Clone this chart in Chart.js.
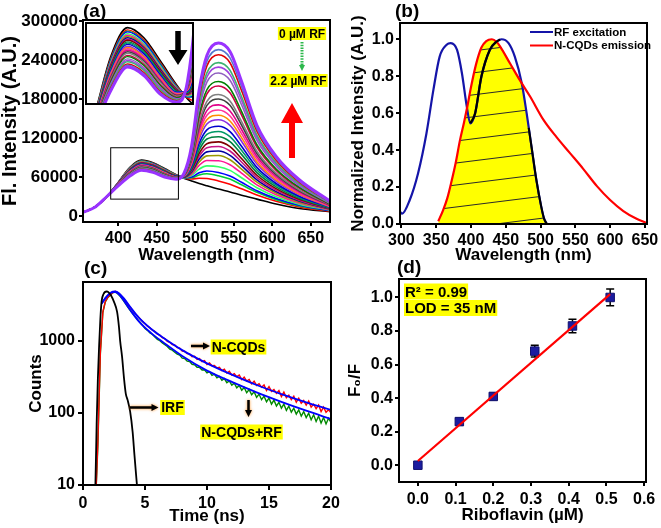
<!DOCTYPE html>
<html>
<head>
<meta charset="utf-8">
<script src="https://cdn.jsdelivr.net/npm/chart.js@4/dist/chart.umd.min.js"></script>
<style>
  html, body { margin: 0; padding: 0; background: #fff; }
  #wrap { position: relative; width: 661px; height: 528px; overflow: hidden; background: #fff; }
  #wrap canvas { position: absolute; left: 0; top: 0; }
</style>
</head>
<body>
<div id="wrap">
  <canvas id="chA" width="661" height="528"></canvas>
  <canvas id="chInset" width="661" height="528"></canvas>
  <canvas id="chB" width="661" height="528"></canvas>
  <canvas id="chC" width="661" height="528"></canvas>
  <canvas id="chD" width="661" height="528"></canvas>
</div>
<script>
// ---------- (a) emission spectra of N-CQDs with RF added (intensity in thousands A.U.) ----------
const waveA = [355, 370, 385, 400, 415, 430, 445, 460, 475, 485, 495, 505, 515, 530, 545, 560, 580, 605, 635, 675];
const spectraA = [
  [6, 14, 30, 52, 75, 86, 82, 73, 63.5, 58, 54, 50, 46.5, 41.5, 37, 32, 26, 18.5, 11.5, 6.5],
  [6, 14, 30, 51.7, 74.3, 85.1, 81.2, 72.3, 63.1, 58.4, 57.0, 58.0, 57.6, 54.0, 49.0, 41.8, 32.3, 22.6, 14.0, 7.4],
  [6, 14, 30, 51.5, 73.8, 84.6, 80.7, 71.8, 62.9, 58.7, 58.8, 63.2, 64.9, 62.0, 56.8, 48.0, 36.4, 25.2, 15.5, 8.0],
  [6, 14, 30, 51.4, 73.5, 84.3, 80.4, 71.5, 62.7, 58.8, 60.0, 66.4, 69.3, 67.0, 61.5, 51.9, 38.9, 26.8, 16.6, 8.4],
  [6, 14, 30, 51.2, 72.9, 83.6, 79.7, 71.0, 62.4, 59.1, 62.1, 72.1, 77.2, 75.9, 70.2, 58.9, 43.5, 29.7, 18.3, 9.0],
  [6, 14, 30, 51.0, 72.4, 83.0, 79.1, 70.4, 62.2, 59.4, 64.2, 77.9, 85.3, 84.9, 78.8, 65.9, 48.0, 32.7, 20.1, 9.7],
  [6, 14, 30, 50.8, 71.9, 82.5, 78.6, 70.0, 62.0, 59.6, 66.2, 83.1, 92.5, 93.0, 86.6, 72.2, 52.0, 35.3, 21.6, 10.2],
  [6, 14, 30, 50.6, 71.5, 82.0, 78.1, 69.6, 61.7, 59.8, 67.8, 87.6, 98.7, 99.9, 93.3, 77.6, 55.6, 37.5, 23.1, 10.8],
  [6, 14, 30, 50.4, 71.0, 81.4, 77.7, 69.1, 61.5, 60.0, 69.4, 92.1, 104.9, 107.0, 100.0, 83.1, 59.1, 39.8, 24.4, 11.3],
  [6, 14, 30, 50.3, 70.7, 81.0, 77.2, 68.8, 61.3, 60.2, 71.1, 96.5, 111.2, 114.0, 106.8, 88.5, 62.7, 42.1, 25.8, 11.8],
  [6, 14, 30, 50.1, 70.1, 80.4, 76.7, 68.3, 61.1, 60.4, 73.0, 101.7, 118.4, 122.0, 114.5, 94.8, 66.7, 44.8, 27.4, 12.4],
  [6, 14, 30, 49.9, 69.7, 79.9, 76.2, 67.8, 60.8, 60.8, 74.9, 106.8, 125.5, 130.0, 122.1, 101.0, 70.8, 47.4, 29.0, 12.9],
  [6, 14, 30, 49.7, 69.2, 79.4, 75.7, 67.4, 60.6, 61.0, 76.7, 112.0, 132.6, 138.0, 129.9, 107.3, 74.8, 50.0, 30.5, 13.6],
  [6, 14, 30, 49.5, 68.6, 78.7, 75.0, 66.8, 60.3, 61.4, 79.1, 118.4, 141.5, 148.0, 139.5, 115.1, 79.9, 53.2, 32.5, 14.3],
  [6, 14, 30, 49.3, 68.2, 78.2, 74.5, 66.4, 60.0, 61.5, 80.8, 122.9, 147.9, 155.0, 146.2, 120.6, 83.4, 55.5, 34.0, 14.8],
  [6, 14, 30, 49.1, 67.7, 77.7, 74.0, 65.9, 59.8, 61.8, 82.7, 128.0, 155.0, 163.0, 153.9, 126.8, 87.5, 58.1, 35.5, 15.4],
  [6, 14, 30, 48.9, 67.2, 77.1, 73.5, 65.4, 59.6, 62.0, 84.5, 133.1, 162.1, 171.0, 161.6, 133.1, 91.5, 60.8, 37.1, 16.0],
  [6, 14, 30, 48.7, 66.7, 76.5, 72.9, 64.9, 59.4, 62.3, 86.6, 138.9, 170.1, 180.0, 170.3, 140.0, 96.1, 63.6, 38.8, 16.7],
  [6, 14, 30, 48.5, 66.2, 75.9, 72.4, 64.5, 59.1, 62.5, 88.3, 143.4, 176.4, 186.9, 177.0, 145.5, 99.7, 65.9, 40.3, 17.1],
  [6, 14, 30, 48.2, 65.5, 75.1, 71.6, 63.7, 58.7, 62.9, 91.3, 151.8, 188.0, 200.0, 189.5, 155.7, 106.2, 70.3, 42.8, 18.1],
  [6, 14, 30, 48.0, 65.0, 74.6, 71.1, 63.3, 58.5, 63.1, 93.0, 156.3, 194.2, 207.0, 196.3, 161.1, 109.7, 72.4, 44.2, 18.6],
  [6, 14, 30, 47.7, 64.3, 73.7, 70.3, 62.6, 58.1, 63.5, 96.1, 164.6, 205.9, 220.0, 208.7, 171.2, 116.3, 76.8, 46.8, 19.6],
  [6, 14, 30, 47.5, 63.8, 73.1, 69.7, 62.1, 57.9, 63.8, 98.2, 170.3, 213.8, 229.0, 217.5, 178.3, 120.9, 79.6, 48.5, 20.2],
  [6, 14, 30, 47.3, 63.3, 72.6, 69.2, 61.6, 57.6, 64.1, 99.9, 174.9, 220.1, 236.0, 224.2, 183.8, 124.4, 81.9, 49.9, 20.8],
  [6, 14, 30, 47.0, 62.6, 71.7, 68.4, 60.9, 57.3, 64.4, 102.6, 182.5, 230.9, 248.0, 235.8, 193.2, 130.5, 85.8, 52.3, 21.6],
  [6, 14, 30, 46.8, 62.1, 71.2, 67.9, 60.4, 57.0, 64.6, 104.5, 187.7, 237.9, 256.0, 243.3, 199.3, 134.5, 88.4, 53.8, 22.2],
  [6, 14, 30, 46.6, 61.5, 70.5, 67.2, 59.9, 56.7, 65.0, 106.9, 194.1, 246.9, 266.0, 253.0, 207.2, 139.6, 91.8, 55.8, 22.9]
];
const colorsA = ['#000000', '#FF0000', '#00CC33', '#0000FF', '#33FF66', '#FF1493', '#999900', '#0000A0', '#C71585',
  '#800000', '#008040', '#009966', '#0000CC', '#8A2BE2', '#FF8C00', '#FF3399', '#E0008A', '#404040', '#808080',
  '#CC0044', '#008000', '#9060C0', '#A040E0', '#3CB371', '#E00000', '#5577CC', '#9933FF'];
const xTicksA = [400, 450, 500, 550, 600, 650];
const yTicksA = [0, 60000, 120000, 180000, 240000, 300000];

// ---------- (b) spectral overlap ----------
const exWave = [298, 301, 312, 324, 336, 346, 355, 365, 371, 380, 387, 394, 399, 406, 415, 427, 437, 444, 454, 463, 473, 480, 487, 494, 501, 505, 509];
const exInt = [0.066, 0.056, 0.13, 0.275, 0.49, 0.726, 0.906, 0.97, 0.979, 0.942, 0.816, 0.635, 0.545, 0.6, 0.798, 0.942, 0.988, 1.0, 0.979, 0.906, 0.762, 0.6, 0.419, 0.238, 0.094, 0.03, 0.0];
const emWave = [353, 360, 366, 372, 378, 384, 390, 395, 400, 407, 415, 422, 430, 437, 442, 456, 470, 485, 504, 523, 542, 561, 581, 600, 619, 638, 652];
const emInt = [0.015, 0.075, 0.14, 0.23, 0.33, 0.45, 0.55, 0.64, 0.74, 0.86, 0.955, 0.99, 1.0, 0.985, 0.96, 0.87, 0.78, 0.69, 0.565, 0.47, 0.385, 0.3, 0.205, 0.13, 0.07, 0.028, 0.006];
const ovWave = [353, 360, 366, 372, 378, 384, 390, 395, 400, 407, 415, 422, 430, 437, 444, 456, 466, 473, 480, 487, 494, 501, 505, 509];
const ovInt = [0.015, 0.075, 0.14, 0.23, 0.33, 0.45, 0.55, 0.64, 0.74, 0.86, 0.955, 0.99, 1.0, 0.985, 0.955, 0.87, 0.81, 0.762, 0.6, 0.419, 0.238, 0.094, 0.03, 0.0];
const dipWave = [399, 406, 415, 427, 437, 442];
const dipInt = [0.545, 0.6, 0.798, 0.942, 0.988, 0.998];
const tailWave = [483, 487, 494, 501, 505, 509];
const tailInt = [0.52, 0.419, 0.238, 0.094, 0.03, 0.0];
const xTicksB = [300, 350, 400, 450, 500, 550, 600, 650];
const yTicksB = [0, 0.2, 0.4, 0.6, 0.8, 1.0];

// ---------- (c) fluorescence decay ----------
const irfT = [0.95, 1.0, 1.1, 1.2, 1.3, 1.4, 1.5, 1.65, 1.9, 2.05, 2.25, 2.5, 2.75, 2.9, 3.0, 3.15, 3.3, 3.45, 3.6, 3.8, 4.0, 4.15, 4.35];
const irfCounts = [8, 10, 70, 300, 850, 2000, 3500, 4400, 4800, 4700, 4250, 3450, 2500, 1550, 980, 600, 310, 185, 150, 105, 55, 26, 10];
// measured traces, one channel every 0.2 ns from 1.0 ns
const cqdCounts = [5, 40, 700, 2500, 3500, 4000, 4300, 4650, 4820, 4650,
  4330, 3930, 3580, 3190, 2900, 2620, 2370, 2200, 2020, 1850,
  1720, 1590, 1510, 1400, 1340, 1230, 1190, 1100, 1070, 980,
  950, 880, 870, 800, 790, 720, 715, 660, 655, 600,
  610, 548, 566, 512, 528, 468, 492, 450, 452, 418,
  428, 384, 402, 356, 376, 334, 350, 318, 334, 288,
  312, 276, 290, 252, 274, 240, 254, 226, 244, 204,
  230, 198, 210, 186, 204, 168, 194, 162, 176, 152,
  170, 140, 160, 136, 148, 128, 146, 120, 132, 114,
  128, 104, 120, 102, 110, 100];
const cqdRfCounts = [5, 35, 650, 2450, 3450, 3950, 4250, 4600, 4720, 4480,
  4120, 3700, 3320, 2950, 2640, 2380, 2150, 1960, 1800, 1640,
  1470, 1390, 1280, 1220, 1120, 1040, 1000, 930, 880, 830,
  760, 740, 690, 650, 630, 572, 566, 520, 512, 470,
  462, 428, 426, 392, 396, 358, 372, 330, 344, 306,
  320, 282, 298, 262, 276, 242, 258, 222, 240, 206,
  224, 190, 210, 178, 196, 164, 182, 152, 170, 142,
  160, 132, 150, 124, 140, 116, 132, 108, 124, 102,
  116, 96, 110, 90, 104, 86, 99, 80, 94, 76,
  90, 72, 86, 70, 84, 74];
const fitT = [1.5, 1.8, 2.1, 2.4, 2.6, 2.9, 3.3, 3.8, 4.5, 5.5, 6.5, 8, 10, 12, 14, 16, 18, 20];
const fitCqd = [3300, 3900, 4450, 4780, 4820, 4560, 3850, 2950, 2080, 1450, 1090, 740, 485, 338, 243, 182, 140, 110];
const fitCqdRf = [3250, 3850, 4380, 4700, 4720, 4400, 3580, 2680, 1850, 1270, 940, 615, 385, 268, 192, 142, 107, 82];
const xTicksC = [0, 5, 10, 15, 20];
const yTicksC = [10, 100, 1000];

// ---------- (d) calibration ----------
const rfConc = [0, 0.11, 0.2, 0.31, 0.41, 0.51];
const f0f = [0, 0.26, 0.41, 0.68, 0.83, 1.0];
const f0fErr = [0.01, 0.02, 0.02, 0.035, 0.04, 0.05];
const fitConc = [0, 0.51];
const fitF0f = [0.025, 1.02];
const xTicksD = [0, 0.1, 0.2, 0.3, 0.4, 0.5, 0.6];
const yTicksD = [0, 0.2, 0.4, 0.6, 0.8, 1.0];

const FONT = '"Liberation Sans", Arial, Helvetica, sans-serif';
Chart.defaults.font.family = FONT;
Chart.defaults.font.weight = 'bold';
Chart.defaults.color = '#000';

const pts = (xs, ys, k = 1) => xs.map((x, i) => ({x, y: ys[i] == null ? null : ys[i] * k}));

function axis(o) {
  return {
    type: o.type || 'linear',
    display: o.display !== false,
    min: o.min, max: o.max,
    border: {display: false},
    grid: {drawOnChartArea: false, drawTicks: true, tickLength: o.tick || 4, color: '#000', lineWidth: 2},
    ticks: {font: {size: o.font || 16, weight: 'bold'}, color: '#000', padding: o.pad == null ? 2 : o.pad,
      maxRotation: 0, autoSkip: false, callback: o.fmt || (v => String(v))},
    title: {display: !!o.title, text: o.title, color: '#000',
      font: {size: o.titleSize || 17, weight: 'bold', lineHeight: 1}, padding: o.titlePad || 0},
    afterBuildTicks: s => { if (o.ticks) s.ticks = o.ticks.map(v => ({value: v})); },
    afterFit: s => {
      if (o.width != null) s.width = o.width;
      if (o.height != null) s.height = o.height;
      s.paddingLeft = s.paddingRight = s.paddingTop = s.paddingBottom = 0;
    }
  };
}

function makeChart(id, padding, datasets, scales, hooks) {
  return new Chart(document.getElementById(id), {
    type: 'line',
    data: {datasets},
    options: {
      responsive: false, animation: false, devicePixelRatio: 1,
      layout: {padding},
      plugins: {legend: {display: false}, tooltip: {enabled: false}},
      elements: {point: {radius: 0}, line: {tension: 0}},
      events: [],
      scales
    },
    plugins: [Object.assign({id: 'deco' + id}, hooks)]
  });
}

function frame(c) {
  const a = c.chartArea, g = c.ctx;
  g.save();
  g.lineWidth = 2; g.strokeStyle = '#000';
  g.strokeRect(a.left, a.top, a.right - a.left, a.bottom - a.top);
  g.restore();
}

function label(g, text, x, y, size) {
  g.save();
  g.font = `bold ${size}px ${FONT}`;
  g.fillStyle = '#000'; g.textAlign = 'left'; g.textBaseline = 'alphabetic';
  g.fillText(text, x, y);
  g.restore();
}

function tag(g, text, x, cy, size, align) {
  g.save();
  g.font = `bold ${size}px ${FONT}`;
  const w = g.measureText(text).width;
  const x0 = align === 'left' ? x : x - w / 2;
  g.fillStyle = '#FFFF00';
  g.fillRect(x0 - 1, cy - size / 2 - 0.5, w + 2, size + 1);
  g.fillStyle = '#000'; g.textAlign = 'left'; g.textBaseline = 'middle';
  g.fillText(text, x0, cy + 1);
  g.restore();
}

function arrow(g, x1, y1, x2, y2, w, hl, hw, color, glow) {
  const ang = Math.atan2(y2 - y1, x2 - x1), len = Math.hypot(x2 - x1, y2 - y1);
  g.save();
  g.translate(x1, y1); g.rotate(ang);
  if (glow) { g.shadowColor = 'rgba(255,130,0,0.85)'; g.shadowBlur = 3; }
  g.fillStyle = color;
  g.beginPath();
  g.moveTo(0, -w / 2); g.lineTo(len - hl, -w / 2); g.lineTo(len - hl, -hw / 2); g.lineTo(len, 0);
  g.lineTo(len - hl, hw / 2); g.lineTo(len - hl, w / 2); g.lineTo(0, w / 2);
  g.closePath(); g.fill();
  g.restore();
}

// ---------- chart (a) ----------
const dsA = (width) => spectraA.map((row, k) => ({
  data: pts(waveA, row, 1000),
  borderColor: colorsA[k],
  borderWidth: k === spectraA.length - 1 ? 3 : (k === 0 ? 1.6 : width),
  cubicInterpolationMode: 'monotone',
  order: spectraA.length - 1 - k
}));

makeChart('chA', {left: 0, top: 20, right: 331, bottom: 264}, dsA(1.6), {
  x: axis({min: 354, max: 675, ticks: xTicksA, title: 'Wavelength (nm)', height: 42, pad: 3}),
  y: axis({min: -9200, max: 301500, ticks: yTicksA, title: 'Fl. Intensity (A.U.)', titleSize: 20, font: 17, width: 83, pad: 1})
}, {
  afterDraw(c) {
    const g = c.ctx, x = c.scales.x, y = c.scales.y;
    frame(c);
    g.save();
    g.lineWidth = 1; g.strokeStyle = '#000';
    const x0 = x.getPixelForValue(390), x1 = x.getPixelForValue(478);
    const y0 = y.getPixelForValue(105000), y1 = y.getPixelForValue(26000);
    g.strokeRect(x0, y0, x1 - x0, y1 - y0);
    g.restore();
    tag(g, '0 µM RF', 302, 33.5, 12);
    tag(g, '2.2 µM RF', 298.5, 80.5, 12);
    g.save();
    g.strokeStyle = '#2DB84C'; g.lineWidth = 3; g.setLineDash([1.5, 1.2]);
    g.beginPath(); g.moveTo(302, 42); g.lineTo(302, 66); g.stroke();
    g.restore();
    arrow(g, 302, 64, 302, 71, 1, 6, 6, '#2DB84C');
    arrow(g, 292, 158, 292, 103, 6, 20, 22, '#FF0000');
    label(g, '(a)', 83, 17, 19);
  }
});

// ---------- inset of (a) ----------
makeChart('chInset', {left: 86, top: 23, right: 468, bottom: 424}, dsA(1.4), {
  x: axis({display: false, min: 392, max: 490}),
  y: axis({display: false, min: 56000, max: 87800})
}, {
  beforeDatasetsDraw(c) {
    const a = c.chartArea, g = c.ctx;
    g.save(); g.fillStyle = '#fff'; g.fillRect(a.left, a.top, a.right - a.left, a.bottom - a.top); g.restore();
  },
  afterDraw(c) {
    frame(c);
    arrow(c.ctx, 178, 31, 178, 65, 5.5, 15, 19, '#000');
  }
});

// ---------- chart (b) ----------
const tile = document.createElement('canvas');
tile.width = 176; tile.height = 22;
const tg = tile.getContext('2d');
tg.fillStyle = '#FFFF00'; tg.fillRect(0, 0, 176, 22);
tg.strokeStyle = '#2a2a2a'; tg.lineWidth = 1;
for (const dy of [-22, 0, 22]) { tg.beginPath(); tg.moveTo(0, 22 + dy); tg.lineTo(176, dy); tg.stroke(); }
const hatch = document.getElementById('chB').getContext('2d').createPattern(tile, 'repeat');

makeChart('chB', {left: 348, top: 23, right: 14, bottom: 264}, [
  {label: 'overlap', data: pts(ovWave, ovInt), borderWidth: 0, backgroundColor: hatch, fill: 'origin', cubicInterpolationMode: 'monotone', order: 4},
  {label: 'RF excitation', data: pts(exWave, exInt), borderColor: '#1414A8', borderWidth: 2.2, cubicInterpolationMode: 'monotone', order: 3},
  {label: 'N-CQDs emission', data: pts(emWave, emInt), borderColor: '#FF0000', borderWidth: 2.2, cubicInterpolationMode: 'monotone', order: 2},
  {label: 'dip', data: pts(dipWave, dipInt), borderColor: '#000', borderWidth: 2.2, cubicInterpolationMode: 'monotone', order: 1},
  {label: 'tail', data: pts(tailWave, tailInt), borderColor: '#000', borderWidth: 2, cubicInterpolationMode: 'monotone', order: 1}
], {
  x: axis({min: 298, max: 653, ticks: xTicksB, title: 'Wavelength (nm)', height: 40, pad: 3}),
  y: axis({min: 0, max: 1.088, ticks: yTicksB, title: 'Normalized Intensity (A.U.)', width: 52, pad: 2,
    titlePad: {top: 1.5, bottom: 0}, fmt: v => v.toFixed(1)})
}, {
  afterDraw(c) {
    const g = c.ctx;
    frame(c);
    const rows = [[c.data.datasets[1], 32], [c.data.datasets[2], 45.5]];
    g.save();
    for (const [ds, yy] of rows) {
      g.strokeStyle = ds.borderColor; g.lineWidth = 2;
      g.beginPath(); g.moveTo(530, yy); g.lineTo(553, yy); g.stroke();
      g.font = `bold 11.5px ${FONT}`; g.fillStyle = '#000'; g.textBaseline = 'middle';
      g.fillText(ds.label, 554, yy + 0.5);
    }
    g.restore();
    label(g, '(b)', 395, 17, 19);
  }
});

// ---------- chart (c) ----------
const chanT = cqdCounts.map((_, i) => 1.0 + i * 0.2);
makeChart('chC', {left: 28, top: 282, right: 330, bottom: 3}, [
  {data: pts(irfT, irfCounts), borderColor: '#000', borderWidth: 1.8, cubicInterpolationMode: 'monotone', order: 0},
  {data: pts(fitT, fitCqd), borderColor: '#0000FF', borderWidth: 1.8, cubicInterpolationMode: 'monotone', order: 1},
  {data: pts(fitT, fitCqdRf), borderColor: '#0000FF', borderWidth: 1.8, cubicInterpolationMode: 'monotone', order: 1},
  {data: pts(chanT, cqdCounts), borderColor: '#FF0000', borderWidth: 1.4, order: 2},
  {data: pts(chanT, cqdRfCounts), borderColor: '#008A00', borderWidth: 1.4, order: 3}
], {
  x: axis({min: 0, max: 20, ticks: xTicksC, title: 'Time (ns)', height: 40, pad: 4, tick: 5}),
  y: axis({type: 'logarithmic', min: 10, max: 6500, ticks: yTicksC, title: 'Counts', width: 55, pad: 3, tick: 5})
}, {
  afterDraw(c) {
    const g = c.ctx;
    frame(c);
    arrow(g, 191, 346, 210, 346, 2.5, 7, 7, '#000', true);
    tag(g, 'N-CQDs', 238.5, 347, 14);
    arrow(g, 130, 407.5, 158.5, 407.5, 2.5, 7, 7, '#000', true);
    tag(g, 'IRF', 172.5, 407.5, 14);
    arrow(g, 248.5, 400, 248.5, 417, 2.5, 7, 7, '#000', true);
    tag(g, 'N-CQDs+RF', 241.5, 432, 14);
    label(g, '(c)', 84, 274, 19);
  }
});

// ---------- chart (d) ----------
makeChart('chD', {left: 345, top: 279, right: 15, bottom: 4}, [
  {data: pts(fitConc, fitF0f), borderColor: '#FF0000', borderWidth: 2.2, order: 0},
  {data: pts(rfConc, f0f), showLine: false, pointStyle: 'rect', pointRadius: 6,
    pointBackgroundColor: '#1C1CA0', pointBorderColor: '#12126e', pointBorderWidth: 1, order: 1}
], {
  x: axis({min: -0.05, max: 0.605, ticks: xTicksD, title: 'Riboflavin (µM)', height: 42, pad: 4, fmt: v => v.toFixed(1)}),
  y: axis({min: -0.1, max: 1.11, ticks: yTicksD, title: 'F₀/F', width: 54, pad: 2, titlePad: {top: 1.5, bottom: 0}, fmt: v => v.toFixed(1)})
}, {
  beforeDatasetsDraw(c) {
    const g = c.ctx, x = c.scales.x, y = c.scales.y;
    g.save(); g.strokeStyle = '#000'; g.lineWidth = 1.5;
    rfConc.forEach((v, i) => {
      const px = x.getPixelForValue(v);
      const top = y.getPixelForValue(f0f[i] + f0fErr[i]), bot = y.getPixelForValue(f0f[i] - f0fErr[i]);
      g.beginPath();
      g.moveTo(px, top); g.lineTo(px, bot);
      g.moveTo(px - 4, top); g.lineTo(px + 4, top);
      g.moveTo(px - 4, bot); g.lineTo(px + 4, bot);
      g.stroke();
    });
    g.restore();
  },
  afterDraw(c) {
    const g = c.ctx;
    frame(c);
    tag(g, 'R² = 0.99', 405, 291.5, 15, 'left');
    tag(g, 'LOD = 35 nM', 405, 308, 15, 'left');
    label(g, '(d)', 397, 273, 19);
  }
});
</script>
</body>
</html>
